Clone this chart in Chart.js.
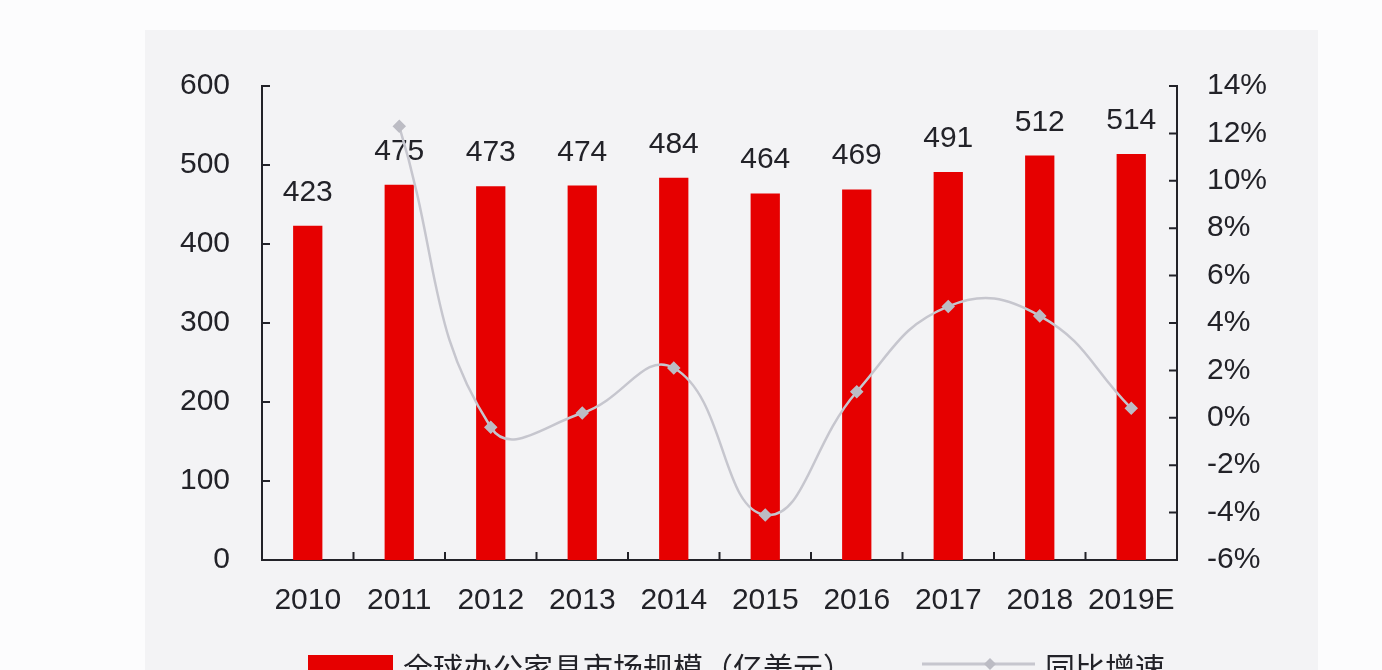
<!DOCTYPE html>
<html lang="zh">
<head>
  <meta charset="UTF-8" />
  <title>全球办公家具市场规模</title>
  <script src="https://cdn.jsdelivr.net/npm/chart.js"></script>
  <style>
    html, body { margin: 0; padding: 0; background: #fcfcfd; overflow: hidden; }
    #panel { position: absolute; left: 145px; top: 30px; width: 1173px; height: 640px; background: #f3f3f5; }
    #chart { position: absolute; left: 0; top: 0; }
  </style>
</head>
<body>
<div id="panel"></div>
<canvas id="chart" width="1382" height="670"></canvas>

<script>
const years = ['2010', '2011', '2012', '2013', '2014', '2015', '2016', '2017', '2018', '2019E'];
const marketSize = [423, 475, 473, 474, 484, 464, 469, 491, 512, 514];
const growthPct = [null, 12.3, -0.4, 0.2, 2.1, -4.1, 1.1, 4.7, 4.3, 0.4];
const barLabel = '全球办公家具市场规模（亿美元）';
const lineLabel = '同比增速';

const FONT = '"Liberation Sans", Arial, sans-serif';
const INK = '#222228';
const RED = '#e60000';
const GREY = '#c6c6ce';

// inward tick marks, bar value labels and the (cut off) legend
const decor = {
  id: 'decor',
  beforeDatasetsDraw(chart) {
    // value labels over bars, under the line
    const ctx = chart.ctx;
    ctx.save();
    ctx.fillStyle = INK;
    ctx.font = '30px ' + FONT;
    ctx.textAlign = 'center';
    ctx.textBaseline = 'alphabetic';
    chart.getDatasetMeta(1).data.forEach((b, i) => {
      ctx.fillText(String(marketSize[i]), b.x, b.y - 25);
    });
    ctx.restore();
  },
  afterDatasetsDraw(chart) {
    const ctx = chart.ctx;
    const { y, y1, x } = chart.scales;
    const area = chart.chartArea;
    ctx.save();
    ctx.strokeStyle = INK;
    ctx.lineWidth = 2;
    ctx.beginPath();
    y.ticks.forEach(t => {
      const py = y.getPixelForValue(t.value);
      ctx.moveTo(area.left, py); ctx.lineTo(area.left + 8, py);
    });
    y1.ticks.forEach(t => {
      const py = y1.getPixelForValue(t.value);
      ctx.moveTo(area.right, py); ctx.lineTo(area.right - 8, py);
    });
    for (let i = 1; i < years.length; i++) {
      const px = (x.getPixelForValue(i - 1) + x.getPixelForValue(i)) / 2;
      ctx.moveTo(px, area.bottom); ctx.lineTo(px, area.bottom - 8);
    }
    ctx.stroke();

    // legend
    ctx.fillStyle = RED;
    ctx.fillRect(308, 655, 85, 30);
    ctx.fillStyle = INK;
    ctx.font = '30px "Noto Sans CJK SC", sans-serif';
    ctx.textAlign = 'left';
    ctx.textBaseline = 'middle';
    ctx.fillText(barLabel, 403, 668);
    ctx.strokeStyle = GREY;
    ctx.lineWidth = 3;
    ctx.beginPath(); ctx.moveTo(922, 664); ctx.lineTo(1035, 664); ctx.stroke();
    ctx.fillStyle = '#bcbcc4';
    ctx.beginPath();
    ctx.moveTo(990, 658); ctx.lineTo(996, 664); ctx.lineTo(990, 670); ctx.lineTo(984, 664);
    ctx.closePath(); ctx.fill();
    ctx.fillStyle = INK;
    ctx.fillText(lineLabel, 1045, 668);
    ctx.restore();
  }
};

new Chart(document.getElementById('chart'), {
  data: {
    labels: years,
    datasets: [
      {
        type: 'line', label: lineLabel, data: growthPct, yAxisID: 'y1',
        borderColor: GREY, borderWidth: 2.5, tension: 0.45,
        pointStyle: 'rectRot', pointRadius: 5, pointBackgroundColor: '#bcbcc4',
        pointBorderColor: '#bcbcc4', order: 0
      },
      {
        type: 'bar', label: barLabel, data: marketSize, yAxisID: 'y',
        backgroundColor: RED, categoryPercentage: 1, barPercentage: 0.32, order: 1
      }
    ]
  },
  options: {
    responsive: false,
    animation: false,
    layout: { padding: { top: 86 } },
    plugins: { legend: { display: false }, tooltip: { enabled: false } },
    scales: {
      x: {
        grid: { display: false, drawTicks: false },
        border: { display: true, color: INK, width: 2 },
        ticks: { color: INK, font: { family: FONT, size: 30 }, padding: 23, maxRotation: 0 },
        afterFit: s => { s.height = 110; }
      },
      y: {
        position: 'left', min: 0, max: 600,
        grid: { display: false, drawTicks: false },
        border: { display: true, color: INK, width: 2 },
        ticks: { stepSize: 100, color: INK, font: { family: FONT, size: 30 }, padding: 32 },
        afterFit: s => { s.width = 262; }
      },
      y1: {
        position: 'right', min: -6, max: 14,
        grid: { display: false, drawTicks: false },
        border: { display: true, color: INK, width: 2 },
        ticks: { stepSize: 2, color: INK, font: { family: FONT, size: 30 }, padding: 30, callback: v => v + '%' },
        afterFit: s => { s.width = 205; }
      }
    }
  },
  plugins: [decor]
});
</script>
</body>
</html>
